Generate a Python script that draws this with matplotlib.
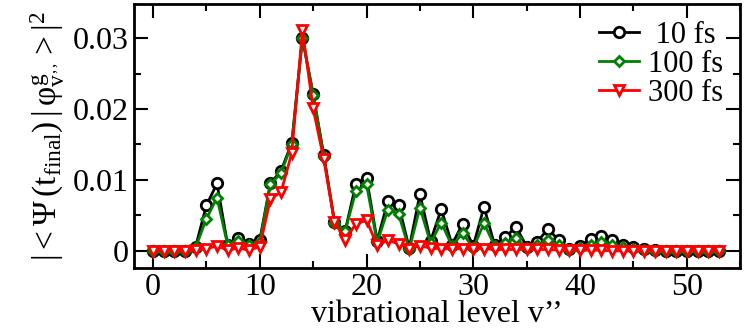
import matplotlib
matplotlib.use("Agg")
import matplotlib.pyplot as plt
from matplotlib.ticker import MultipleLocator

plt.rcParams['font.family'] = ['Liberation Serif', 'DejaVu Serif']
plt.rcParams['mathtext.fontset'] = 'custom'
plt.rcParams['mathtext.rm'] = 'Liberation Serif'
plt.rcParams['mathtext.it'] = 'Liberation Serif'
plt.rcParams['mathtext.bf'] = 'Liberation Serif:bold'

levels = list(range(54))

pop_10fs = [0, 0, 0, 0, 0.0006, 0.0064, 0.0095, 0.0008, 0.0018, 0.0010,
            0.0015, 0.0095, 0.0113, 0.0152, 0.0300, 0.0221, 0.0135, 0.0041,
            0.0028, 0.0094, 0.0103, 0.0014, 0.0070, 0.0065, 0.0004, 0.0080,
            0.0014, 0.0059, 0.0009, 0.0038, 0.0007, 0.0062, 0.0008, 0.0019,
            0.0034, 0.0006, 0.0013, 0.0031, 0.0015, 0.0002, 0.0007, 0.0017,
            0.0021, 0.0015, 0.0009, 0.0005, 0.0003, 0.0001, 0, 0, 0, 0, 0, 0]

pop_100fs = [0, 0, 0, 0, 0.0005, 0.0045, 0.0075, 0.0008, 0.0014, 0.0008,
             0.0012, 0.0094, 0.0110, 0.0150, 0.0300, 0.0220, 0.0133, 0.0040,
             0.0028, 0.0084, 0.0094, 0.0012, 0.0058, 0.0052, 0.0002, 0.0061,
             0.0011, 0.0040, 0.0007, 0.0025, 0.0004, 0.0039, 0.0007, 0.0011,
             0.0018, 0.0004, 0.0008, 0.0015, 0.0008, 0.0001, 0.0004, 0.0008,
             0.0012, 0.0008, 0.0005, 0.0003, 0.0001, 0, 0, 0, 0, 0, 0, 0]

pop_300fs = [0, 0, 0, 0, 0.0001, 0.0003, 0.0007, 0.0001, 0.0004, 0.0001,
             0.0006, 0.0073, 0.0083, 0.0138, 0.0311, 0.0201, 0.0129, 0.0041,
             0.0016, 0.0038, 0.0043, 0.0008, 0.0015, 0.0010, 0.0003, 0.0007,
             0.0004, 0.0003, 0.0003, 0.0003, 0.0003, 0.0003, 0.0002, 0.0002,
             0.0002, 0.0002, 0.0002, 0.0002, 0.0001, 0.0001, 0.0001, 0.0001,
             0.0001, 0, 0, 0, 0, 0, 0, 0, 0, 0, 0, 0]

fig = plt.figure(figsize=(7.47, 3.32), dpi=100)
ax = fig.add_axes([0.179, 0.193, 0.812, 0.795])

ax.plot(levels, pop_10fs, color='black', lw=2, marker='o', ms=7.5,
        mfc='white', mec='black', mew=2, label=' 10 fs')
ax.plot(levels, pop_100fs, color='#008000', lw=2, marker='D', ms=5,
        mfc='white', mec='#008000', mew=2, label='100 fs')
ax.plot(levels, pop_300fs, color='#ff0000', lw=2, marker='v', ms=7.5,
        mfc='white', mec='#ff0000', mew=2, label='300 fs')

ax.set_xlim(-1.8, 55)
ax.set_ylim(-0.0024, 0.0348)
ax.xaxis.set_major_locator(MultipleLocator(10))
ax.xaxis.set_minor_locator(MultipleLocator(5))
ax.yaxis.set_major_locator(MultipleLocator(0.01))
ax.yaxis.set_minor_locator(MultipleLocator(0.005))
ax.set_yticks([0, 0.01, 0.02, 0.03])
ax.set_yticklabels(['0', '0.01', '0.02', '0.03'])

ax.tick_params(which='both', direction='in', top=True, right=True,
               labelsize=23, width=1.5)
ax.tick_params(which='major', length=10)
ax.tick_params(which='minor', length=5)
for s in ax.spines.values():
    s.set_linewidth(2)

ax.set_xlabel("vibrational level v\u2019\u2019", fontsize=23, labelpad=-1)
ax.set_ylabel(r'$|<\Psi\,(t_{\rm final})\,|\,\varphi^{\rm g}_{v^{,,}}>|^2$',
              fontsize=24, labelpad=4)

ax.legend(loc='upper right', frameon=False, fontsize=22, handlelength=1.3,
          handletextpad=0.3, labelspacing=0.0, borderaxespad=0.15)

fig.savefig('out.png', dpi=100)
